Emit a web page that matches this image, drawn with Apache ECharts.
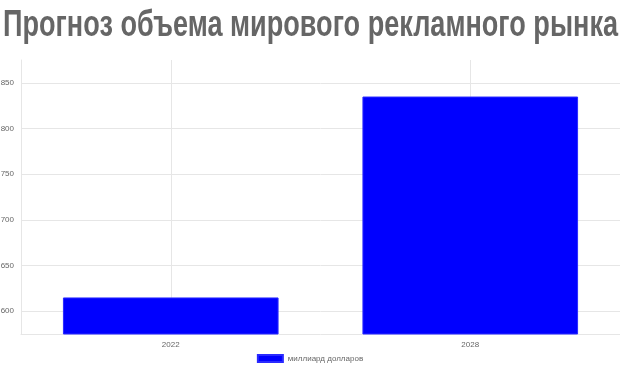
<!DOCTYPE html>
<html><head><meta charset="utf-8">
<script src="https://cdn.jsdelivr.net/npm/echarts@6/dist/echarts.min.js"></script>
<style>html,body{margin:0;padding:0;background:#fff}#c{width:620px;height:372px}</style>
</head><body><div id="c"></div>
<script>
const titleText = 'Прогноз объема мирового рекламного рынка';
const categories = ['2022', '2028'];
const seriesName = 'миллиард долларов';
const values = [615, 835];
const yTicks = [600, 650, 700, 750, 800, 850];

const titleFont = 'bold 36px "Liberation Sans", Arial, sans-serif';
const mctx = document.createElement('canvas').getContext('2d');
mctx.font = titleFont;
const titleScale = 615 / mctx.measureText(titleText).width;

const chart = echarts.init(document.getElementById('c'));
chart.setOption({
  animation: false,
  graphic: [{
    type: 'text', x: 3, y: 26, scaleX: titleScale, scaleY: 1, silent: true,
    style: { text: titleText, font: titleFont, fill: '#666', align: 'left', verticalAlign: 'middle' }
  }],
  legend: {
    bottom: 4, left: 'center', itemWidth: 25, itemHeight: 7, itemGap: 5,
    icon: 'rect',
    textStyle: { fontSize: 8, color: '#666', fontFamily: 'Arial, "Liberation Sans", sans-serif' },
    data: [seriesName]
  },
  grid: { left: 21, right: 0, top: 60, bottom: 38, containLabel: false, outerBoundsMode: 'none' },
  xAxis: {
    type: 'category', data: categories,
    axisLine: { show: true, lineStyle: { color: '#e6e6e6' } },
    axisTick: { show: false },
    axisLabel: { color: '#666', fontSize: 8, margin: 7, fontFamily: 'Arial, "Liberation Sans", sans-serif' },
    splitLine: { show: true, alignWithLabel: true, lineStyle: { color: '#e6e6e6' } }
  },
  yAxis: {
    type: 'value', min: 575, max: 875,
    axisLine: { show: true, lineStyle: { color: '#e6e6e6' } },
    axisTick: { show: false, customValues: yTicks },
    axisLabel: { color: '#666', fontSize: 8, margin: 7, customValues: yTicks, fontFamily: 'Arial, "Liberation Sans", sans-serif' },
    splitLine: { show: true, customValues: yTicks, lineStyle: { color: '#e6e6e6' } }
  },
  series: [{
    name: seriesName, type: 'bar', data: values,
    barCategoryGap: '28%',
    itemStyle: { color: '#0000ff', borderColor: '#2a2aff', borderWidth: 1 }
  }]
});
</script></body></html>
